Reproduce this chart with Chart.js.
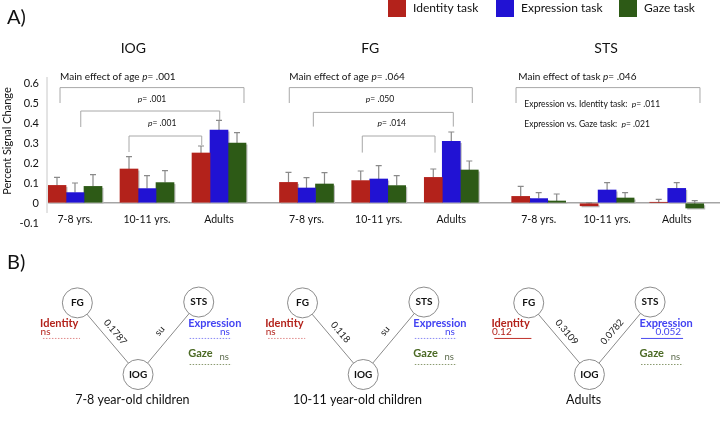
<!DOCTYPE html>
<html>
<head>
<meta charset="utf-8">
<script src="https://cdn.jsdelivr.net/npm/chart.js@4.4.1/dist/chart.umd.min.js"></script>
<style>
  html, body { margin: 0; padding: 0; background: #fff; }
  #wrap { position: relative; width: 722px; height: 422px; overflow: hidden; }
  #barBox { position: absolute; left: 0; top: 0; width: 722px; height: 250px; }
  #netBox { position: absolute; left: 0; top: 250px; width: 722px; height: 172px; }
</style>
</head>
<body>
<div id="wrap">
  <div id="barBox"><canvas id="barChart"></canvas></div>
  <div id="netBox"><canvas id="netChart"></canvas></div>
</div>
<script>
// ---- Panel A data ----
const regions = ['IOG', 'FG', 'STS'];
const ageGroups = ['7-8 yrs.', '10-11 yrs.', 'Adults'];
const taskNames = ['Identity task', 'Expression task', 'Gaze task'];
// one value per bar, in order IOG (3 ages), FG (3 ages), STS (3 ages)
const identityMean   = [0.088, 0.170, 0.250, 0.103, 0.112, 0.128, 0.033, -0.014, 0.003];
const identityErr    = [0.040, 0.062, 0.035, 0.050, 0.048, 0.042, 0.050, 0.015, 0.015];
const expressionMean = [0.052, 0.072, 0.365, 0.075, 0.120, 0.308, 0.022, 0.065, 0.073];
const expressionErr  = [0.048, 0.065, 0.048, 0.052, 0.067, 0.047, 0.030, 0.037, 0.029];
const gazeMean       = [0.083, 0.102, 0.300, 0.095, 0.087, 0.165, 0.010, 0.025, -0.025];
const gazeErr        = [0.059, 0.060, 0.052, 0.057, 0.050, 0.045, 0.035, 0.027, 0.037];
const yTicks = [-0.1, 0, 0.1, 0.2, 0.3, 0.4, 0.5, 0.6];
const effectNotes = ['Main effect of age p= .001', 'Main effect of age p= .064', 'Main effect of task p= .046'];
const stsContrasts = ['Expression vs. Identity task:  p= .011', 'Expression vs. Gaze task:  p= .021'];

// ---- Panel B data ----
const netGroups = ['7-8 year-old children', '10-11 year-old children', 'Adults'];
const nodeNames = ['FG', 'STS', 'IOG'];
const fgToIog = ['0.1787', '0.118', '0.3109'];
const stsToIog = ['ns', 'ns', '0.0782'];
const identityLink = ['ns', 'ns', '0.12'];
const expressionLink = ['ns', 'ns', '0.052'];
const gazeLink = ['ns', 'ns', 'ns'];

// ---- layout / style ----
const FONT = 'Lato, "DejaVu Sans", sans-serif';
const taskColors = ['#b3221b', '#2112d3', '#2d5a16'];
const textColors = ['#b3221b', '#4343f2', '#4c6a25'];
const groupX = [0, 1, 2, 3.215, 4.218, 5.226, 6.44, 7.39, 8.357];
const titleX = [0.81, 4.10, 7.375];
const noteX = [-0.208, 2.976, 6.157];
const legendX = [388, 496, 619];
// brackets in data units: x0, x1, top, left leg end, right leg end, label
const brackets = [
  { x0: -0.208, x1: 2.347, top: 0.577, l0: 0.50, l1: 0.50, text: 'p= .001', tx: 1.07, ty: 0.52 },
  { x0: 0.08, x1: 2.01, top: 0.46, l0: 0.38, l1: 0.415, text: 'p= .001', tx: 1.21, ty: 0.40 },
  { x0: 0.75, x1: 1.76, top: 0.335, l0: 0.255, l1: 0.29 },
  { x0: 2.976, x1: 5.518, top: 0.577, l0: 0.50, l1: 0.50, text: 'p= .050', tx: 4.236, ty: 0.52 },
  { x0: 3.31, x1: 5.254, top: 0.453, l0: 0.382, l1: 0.382, text: 'p= .014', tx: 4.40, ty: 0.398 },
  { x0: 3.99, x1: 5.0, top: 0.335, l0: 0.252, l1: 0.252 },
  { x0: 6.125, x1: 8.68, top: 0.577, l0: 0.50, l1: 0.50 }
];

// text with an italic "p" before "="
function noteText(ctx, text, x, y, size, align) {
  const k = text.indexOf('p=');
  const segs = k < 0 ? [[text, '']] : [[text.slice(0, k), ''], ['p', 'italic '], [text.slice(k + 1), '']];
  const w = segs.map(([s, st]) => { ctx.font = st + size + 'px ' + FONT; return ctx.measureText(s).width; });
  const total = w.reduce((a, b) => a + b, 0);
  let cx = align === 'center' ? x - total / 2 : x;
  ctx.textAlign = 'left';
  segs.forEach(([s, st], i) => {
    ctx.font = st + size + 'px ' + FONT;
    ctx.fillText(s, cx, y);
    cx += w[i];
  });
}

const means = [identityMean, expressionMean, gazeMean];
const errs = [identityErr, expressionErr, gazeErr];

const errorBars = {
  id: 'errorBars',
  beforeDatasetsDraw(chart) {
    const { ctx, scales: { y } } = chart;
    ctx.save();
    // soft shadow on the right / bottom of every bar
    ctx.fillStyle = '#bdbdbd';
    chart.data.datasets.forEach((ds, d) => {
      chart.getDatasetMeta(d).data.forEach(bar => {
        const top = Math.min(bar.y, bar.base), h = Math.abs(bar.base - bar.y);
        ctx.fillRect(bar.x - bar.width / 2 + 1.5, top + 1.5, bar.width, h);
      });
    });
    ctx.strokeStyle = '#8a8a8a';
    ctx.lineWidth = 1.2;
    chart.data.datasets.forEach((ds, d) => {
      chart.getDatasetMeta(d).data.forEach((bar, i) => {
        const v = ds.data[i].y;
        const y0 = y.getPixelForValue(v), y1 = y.getPixelForValue(v + errs[d][i]);
        ctx.beginPath();
        ctx.moveTo(bar.x, y0); ctx.lineTo(bar.x, y1);
        ctx.moveTo(bar.x - 3, y1); ctx.lineTo(bar.x + 3, y1);
        ctx.stroke();
      });
    });
    ctx.restore();
  }
};

const barNotes = {
  id: 'barNotes',
  afterDraw(chart) {
    const { ctx, scales: { x, y } } = chart;
    ctx.save();
    ctx.textBaseline = 'middle';
    ctx.fillStyle = '#111';

    // panel letter
    ctx.font = '20px ' + FONT;
    ctx.textAlign = 'left';
    ctx.fillText('A)', 7, 18);

    // legend
    taskNames.forEach((name, t) => {
      ctx.fillStyle = taskColors[t];
      ctx.fillRect(legendX[t], -1, 18, 18);
      ctx.fillStyle = '#111';
      ctx.font = '12px ' + FONT;
      ctx.textAlign = 'left';
      ctx.fillText(name, legendX[t] + 25, 8);
    });

    // y axis line and title
    ctx.strokeStyle = '#c8c8c8';
    ctx.lineWidth = 1;
    ctx.beginPath();
    ctx.moveTo(47, y.getPixelForValue(0.63));
    ctx.lineTo(47, y.getPixelForValue(-0.05));
    ctx.stroke();
    ctx.save();
    ctx.translate(7, 141);
    ctx.rotate(-Math.PI / 2);
    ctx.textAlign = 'center';
    ctx.font = '11px ' + FONT;
    ctx.fillText('Percent Signal Change', 0, 0);
    ctx.restore();

    // region titles and main effects
    regions.forEach((r, k) => {
      ctx.fillStyle = '#111';
      ctx.font = '14px ' + FONT;
      ctx.textAlign = 'center';
      ctx.fillText(r, x.getPixelForValue(titleX[k]), y.getPixelForValue(0.775));
      noteText(ctx, effectNotes[k], x.getPixelForValue(noteX[k]), y.getPixelForValue(0.63), 10, 'left');
    });

    // brackets
    ctx.strokeStyle = '#a8a8a8';
    ctx.lineWidth = 1;
    brackets.forEach(b => {
      const xa = x.getPixelForValue(b.x0), xb = x.getPixelForValue(b.x1), yt = y.getPixelForValue(b.top);
      ctx.beginPath();
      ctx.moveTo(xa, y.getPixelForValue(b.l0));
      ctx.lineTo(xa, yt);
      ctx.lineTo(xb, yt);
      ctx.lineTo(xb, y.getPixelForValue(b.l1));
      ctx.stroke();
      if (b.text) noteText(ctx, b.text, x.getPixelForValue(b.tx), y.getPixelForValue(b.ty), 8.5, 'center');
    });
    stsContrasts.forEach((t, i) => {
      noteText(ctx, t, x.getPixelForValue(6.24), y.getPixelForValue(i === 0 ? 0.4935 : 0.395), 8.5, 'left');
    });

    // age group labels
    ctx.font = '10.5px ' + FONT;
    ctx.textAlign = 'center';
    groupX.forEach((gx, i) => {
      ctx.fillText(ageGroups[i % 3], x.getPixelForValue(gx), y.getPixelForValue(-0.085));
    });
    ctx.restore();
  }
};

new Chart(document.getElementById('barChart'), {
  type: 'bar',
  data: {
    datasets: taskNames.map((name, t) => ({
      label: name,
      data: means[t].map((v, i) => ({ x: groupX[i], y: v })),
      backgroundColor: taskColors[t],
      barThickness: 18
    }))
  },
  options: {
    responsive: true,
    maintainAspectRatio: false,
    animation: false,
    layout: { padding: { top: 83, right: 2, bottom: 27, left: 0 } },
    plugins: { legend: { display: false }, tooltip: { enabled: false } },
    scales: {
      x: { type: 'linear', min: -0.375, max: 8.958, offset: false, display: false },
      y: {
        min: -0.1,
        max: 0.6,
        afterFit: s => { s.width = 48; },
        afterBuildTicks: s => { s.ticks = yTicks.map(v => ({ value: v })); },
        border: { display: false },
        grid: {
          drawTicks: false,
          lineWidth: 1.5,
          color: c => Math.abs(c.tick.value) < 1e-9 ? '#a5a5a5' : 'rgba(0,0,0,0)'
        },
        ticks: {
          padding: 9,
          color: '#111',
          font: { family: FONT, size: 11 },
          callback: v => Math.abs(v) < 1e-9 ? '0' : v.toFixed(1)
        }
      }
    }
  },
  plugins: [errorBars, barNotes]
});

// ---- Panel B: connectivity diagrams ----
const iogX = [127.7, 363.3, 600];
const IOG_Y = 133.3;
const nodeOffset = { FG: [-63.5, -88], STS: [63.5, -89], IOG: [0, 0] };
const nodePos = (g, n) => ({ x: iogX[g] + nodeOffset[n][0], y: IOG_Y + nodeOffset[n][1] });
const linkRows = [
  { vals: identityLink, x0: -99.5, x1: -60.7, y: -44.3 },
  { vals: expressionLink, x0: 54, x1: 98, y: -44.3 },
  { vals: gazeLink, x0: 54, x1: 98, y: -12.3 }
];
const lineColors = [['#e08a8a', '#c0302a'], ['#8a8af5', '#4a4af0'], ['#8a9a70', '#5a7335']];

const netDatasets = [{
  data: netGroups.flatMap((g, i) => nodeNames.map(n => nodePos(i, n))),
  pointRadius: 15,
  pointBackgroundColor: '#fff',
  pointBorderColor: '#8c8c8c',
  pointBorderWidth: 1,
  showLine: false
}];
netGroups.forEach((g, i) => {
  netDatasets.push({
    data: [nodePos(i, 'FG'), nodePos(i, 'IOG'), nodePos(i, 'STS')],
    showLine: true, borderColor: '#8a8a8a', borderWidth: 1, pointRadius: 0
  });
  linkRows.forEach((row, t) => {
    const ns = row.vals[i] === 'ns';
    netDatasets.push({
      data: [{ x: iogX[i] + row.x0, y: IOG_Y + row.y }, { x: iogX[i] + row.x1, y: IOG_Y + row.y }],
      showLine: true, pointRadius: 0, borderWidth: 1,
      borderColor: lineColors[t][ns ? 0 : 1],
      borderDash: ns ? [1.5, 1.5] : []
    });
  });
});

const netText = {
  id: 'netText',
  afterDraw(chart) {
    const { ctx, scales: { x, y } } = chart;
    const px = p => ({ x: x.getPixelForValue(p.x), y: y.getPixelForValue(p.y) });
    ctx.save();
    ctx.textBaseline = 'middle';
    ctx.fillStyle = '#111';
    ctx.font = '20px ' + FONT;
    ctx.textAlign = 'left';
    ctx.fillText('B)', 7, 13);

    netGroups.forEach((g, i) => {
      // node names
      ctx.fillStyle = '#111';
      ctx.font = 'bold 10px ' + FONT;
      ctx.textAlign = 'center';
      nodeNames.forEach(n => { const p = px(nodePos(i, n)); ctx.fillText(n, p.x, p.y); });

      // edge weights, written along the edges
      const iog = px(nodePos(i, 'IOG'));
      [['FG', fgToIog[i]], ['STS', stsToIog[i]]].forEach(([n, label]) => {
        const p = px(nodePos(i, n));
        const a = n === 'FG' ? p : iog, b = n === 'FG' ? iog : p;
        const dx = b.x - a.x, dy = b.y - a.y, len = Math.hypot(dx, dy);
        let ang = Math.atan2(dy, dx);
        // offset toward the upper side of the edge
        let nx = dy / len, ny = -dx / len;
        if (ny > 0) { nx = -nx; ny = -ny; }
        const off = 10;
        ctx.save();
        ctx.translate((a.x + b.x) / 2 + nx * off, (a.y + b.y) / 2 + ny * off);
        ctx.rotate(label === 'ns' && n === 'STS' ? ang + Math.PI : ang);
        ctx.font = '9.5px ' + FONT;
        ctx.fillStyle = '#222';
        ctx.textAlign = 'center';
        ctx.fillText(label, 0, 0);
        ctx.restore();
      });

      // task links
      const cx = iogX[i];
      ctx.textAlign = 'left';
      ctx.font = 'bold 11px ' + FONT;
      ctx.fillStyle = textColors[0];
      ctx.fillText('Identity', x.getPixelForValue(cx - 102.5), y.getPixelForValue(IOG_Y - 62.3));
      ctx.font = '10px ' + FONT;
      ctx.fillText(identityLink[i], x.getPixelForValue(cx - 102), y.getPixelForValue(IOG_Y - 52.3));

      ctx.font = 'bold 11px ' + FONT;
      ctx.fillStyle = textColors[1];
      ctx.fillText('Expression', x.getPixelForValue(cx + 52.5), y.getPixelForValue(IOG_Y - 62.3));
      ctx.font = '10px ' + FONT;
      ctx.textAlign = 'right';
      ctx.fillText(expressionLink[i], x.getPixelForValue(cx + 96), y.getPixelForValue(IOG_Y - 52.3));

      ctx.textAlign = 'left';
      ctx.font = 'bold 11px ' + FONT;
      ctx.fillStyle = textColors[2];
      ctx.fillText('Gaze', x.getPixelForValue(cx + 52.5), y.getPixelForValue(IOG_Y - 26.3));
      ctx.font = '9.5px ' + FONT;
      ctx.fillStyle = '#5d6b4d';
      ctx.textAlign = 'right';
      ctx.fillText(gazeLink[i], x.getPixelForValue(cx + 95), y.getPixelForValue(IOG_Y - 21.3));

      // caption
      ctx.fillStyle = '#111';
      ctx.font = '12.5px ' + FONT;
      ctx.textAlign = 'center';
      ctx.fillText(g, x.getPixelForValue(cx - 6), y.getPixelForValue(IOG_Y + 30.7));
    });
    ctx.restore();
  }
};

new Chart(document.getElementById('netChart'), {
  type: 'scatter',
  data: { datasets: netDatasets },
  options: {
    responsive: true,
    maintainAspectRatio: false,
    animation: false,
    layout: { padding: 0 },
    plugins: { legend: { display: false }, tooltip: { enabled: false } },
    scales: {
      x: { type: 'linear', min: 0, max: 722, display: false },
      y: { min: 0, max: 172, reverse: true, display: false }
    }
  },
  plugins: [netText]
});
</script>
</body>
</html>
